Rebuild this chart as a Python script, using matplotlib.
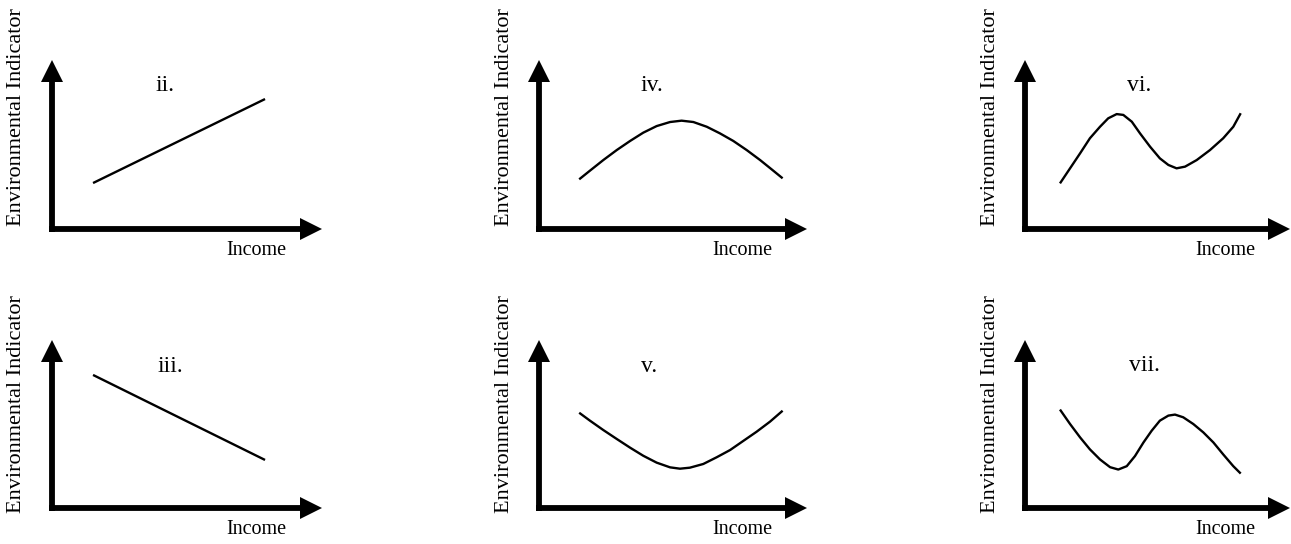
import matplotlib.pyplot as plt
from matplotlib.transforms import offset_copy

plt.rcParams['font.family'] = ['Liberation Serif', 'DejaVu Serif']

# curve points (0-100 scale on each axis)
income_ii = [15.2, 78.9]
indicator_ii = [27.2, 76.9]

income_iii = [15.2, 78.9]
indicator_iii = [79.2, 28.6]

income_iv = [15.0, 19.0, 24.0, 29.0, 34.0, 38.9, 43.9, 48.9, 53.2,
             57.6, 62.6, 67.5, 72.5, 77.5, 82.5, 86.8, 90.9]
indicator_iv = [29.4, 34.5, 40.8, 46.7, 52.1, 57.0, 60.9, 63.3, 64.1,
                63.3, 60.5, 56.6, 52.1, 46.7, 40.8, 35.3, 30.0]

income_v = [15.0, 19.0, 24.0, 29.0, 34.0, 38.9, 43.9, 48.9, 52.6,
            56.3, 61.3, 66.3, 71.3, 76.2, 81.2, 86.2, 90.9]
indicator_v = [56.7, 52.0, 46.4, 41.1, 35.9, 31.1, 27.0, 24.2, 23.4,
               24.0, 26.2, 30.2, 34.5, 39.9, 45.4, 51.4, 57.9]

income_vi = [13.2, 17.0, 20.8, 24.5, 28.3, 31.4, 34.6, 37.1, 40.3, 43.4,
             47.2, 50.9, 54.1, 57.2, 60.4, 64.8, 69.8, 74.8, 78.6, 81.4]
indicator_vi = [27.0, 35.9, 44.8, 53.7, 60.5, 65.5, 68.0, 67.5, 63.5, 56.6,
                48.7, 41.8, 37.9, 35.9, 36.9, 40.8, 46.7, 53.7, 60.5, 68.5]

income_vii = [13.2, 17.0, 20.8, 24.5, 28.3, 32.1, 35.2, 38.4, 41.5, 44.7, 47.8,
              50.9, 54.1, 56.6, 59.7, 63.5, 67.3, 71.1, 74.8, 78.6, 81.4]
indicator_vii = [58.6, 50.0, 42.0, 34.9, 28.9, 24.3, 22.9, 24.9, 30.9, 39.0, 46.0,
                 52.0, 55.0, 55.6, 54.0, 50.0, 45.0, 39.0, 31.9, 24.9, 20.5]

titles = ['ii.', 'iii.', 'iv.', 'v.', 'vi.', 'vii.']
x_label = 'Income'
y_label = 'Environmental Indicator'

W, H = 1291, 544
fig = plt.figure(figsize=(W / 100, H / 100), dpi=100)

# pixel layout of each panel: axis origin and arrow tips
col_left = [52, 539, 1025]
col_right = [322, 807, 1290]
row_bottom = [229, 508]
row_top = [60, 340]
ylab_y = [0.66, 0.62]

panels = [
    (0, 0, titles[0], income_ii, indicator_ii, (0.42, 0.85)),
    (1, 0, titles[1], income_iii, indicator_iii, (0.44, 0.84)),
    (0, 1, titles[2], income_iv, indicator_iv, (0.42, 0.85)),
    (1, 1, titles[3], income_v, indicator_v, (0.41, 0.84)),
    (0, 2, titles[4], income_vi, indicator_vi, (0.43, 0.85)),
    (1, 2, titles[5], income_vii, indicator_vii, (0.45, 0.85)),
]

head = 15.5   # arrow head size, points
shaft_lw = 4.2

for row, col, title, xs, ys, tpos in panels:
    w_px = col_right[col] - col_left[col]
    h_px = row_bottom[row] - row_top[row]
    ax = fig.add_axes([col_left[col] / W, 1 - row_bottom[row] / H, w_px / W, h_px / H])
    ax.set_xlim(0, 100)
    ax.set_ylim(0, 100)
    ax.axis('off')

    ax.plot(xs, ys, color='black', lw=1.7, solid_joinstyle='round',
            solid_capstyle='butt')

    # thick axes with arrow heads
    hx = head / 72 * 100 / 2 / w_px
    hy = head / 72 * 100 / 2 / h_px
    ex = shaft_lw / 72 * 100 / 2 / w_px
    ey = shaft_lw / 72 * 100 / 2 / h_px
    ax.plot([-ex, 1 - hx], [0, 0], color='black', lw=shaft_lw,
            solid_capstyle='butt', transform=ax.transAxes, clip_on=False)
    ax.plot([0, 0], [-ey, 1 - hy], color='black', lw=shaft_lw,
            solid_capstyle='butt', transform=ax.transAxes, clip_on=False)
    ax.plot(1, 0, '>', color='black', ms=head, mew=0, clip_on=False,
            transform=offset_copy(ax.transAxes, fig, x=-head / 2, y=0, units='points'))
    ax.plot(0, 1, '^', color='black', ms=head, mew=0, clip_on=False,
            transform=offset_copy(ax.transAxes, fig, x=0, y=-head / 2, units='points'))

    ax.text(tpos[0], tpos[1], title, transform=ax.transAxes, fontsize=17,
            ha='center', va='center')
    ax.text(0.87, -0.125, x_label, transform=ax.transAxes, fontsize=14.5,
            ha='right', va='center')
    ax.text(-0.13, ylab_y[row], y_label, transform=ax.transAxes, fontsize=16,
            rotation=90, ha='center', va='center')

plt.savefig('out.png', dpi=100)
